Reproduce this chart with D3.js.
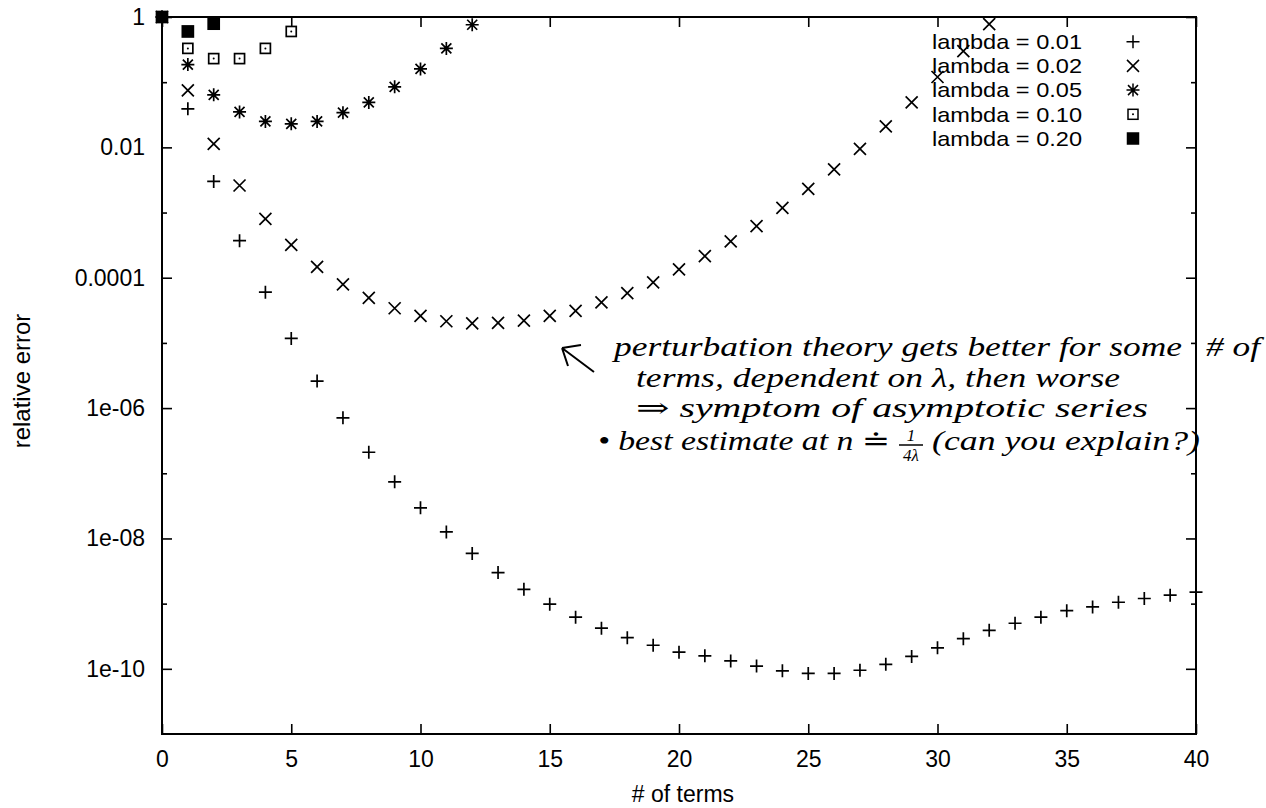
<!DOCTYPE html>
<html>
<head>
<meta charset="utf-8">
<script src="https://cdn.jsdelivr.net/npm/d3@7"></script>
<style>
  body { margin: 0; background: #fff; }
  svg { display: block; }
  .tick text { font-family: "Liberation Sans", Arial, sans-serif; font-size: 23px; fill: #000; }
</style>
</head>
<body>
<div id="chart"></div>
<script>
// relative error vs number of terms, index = # of terms (0..)
var lambda001 = [1, 0.039, 0.0030, 3.7e-4, 6.0e-5, 1.17e-5, 2.6e-6, 7.1e-7, 2.1e-7, 7.4e-8,
                 2.95e-8, 1.26e-8, 5.9e-9, 3.0e-9, 1.66e-9, 9.8e-10, 6.2e-10, 4.2e-10, 3.0e-10, 2.3e-10,
                 1.8e-10, 1.58e-10, 1.32e-10, 1.10e-10, 9.3e-11, 8.5e-11, 8.5e-11, 9.5e-11, 1.17e-10, 1.55e-10,
                 2.1e-10, 2.9e-10, 3.9e-10, 5.0e-10, 6.2e-10, 7.8e-10, 8.9e-10, 1.05e-9, 1.2e-9, 1.35e-9, 1.5e-9];
var lambda002 = [1, 0.075, 0.0113, 0.0026, 8.0e-4, 3.2e-4, 1.47e-4, 7.9e-5, 4.9e-5, 3.4e-5,
                 2.6e-5, 2.15e-5, 2.0e-5, 2.03e-5, 2.2e-5, 2.6e-5, 3.1e-5, 4.2e-5, 5.8e-5, 8.5e-5,
                 1.34e-4, 2.15e-4, 3.6e-4, 6.2e-4, 1.18e-3, 2.3e-3, 4.6e-3, 9.5e-3, 0.021, 0.049,
                 0.12, 0.30, 0.78];
var lambda005 = [1, 0.186, 0.064, 0.035, 0.025, 0.023, 0.025, 0.034, 0.049, 0.085, 0.16, 0.33, 0.76];
var lambda010 = [1, 0.33, 0.23, 0.23, 0.33, 0.60];
var lambda020 = [1, 0.60, 0.79];

var seriesNames = ["lambda = 0.01", "lambda = 0.02", "lambda = 0.05", "lambda = 0.10", "lambda = 0.20"];
var seriesShapes = ["plus", "cross", "star", "box", "filledbox"];
var seriesValues = [lambda001, lambda002, lambda005, lambda010, lambda020];

var xTicks = [0, 5, 10, 15, 20, 25, 30, 35, 40];
var yMajor = [1, 0.01, 1e-4, 1e-6, 1e-8, 1e-10];
var yLabels = ["1", "0.01", "0.0001", "1e-06", "1e-08", "1e-10"];
var yMinor = [0.1, 1e-3, 1e-5, 1e-7, 1e-9];

var width = 1266, height = 808;
var plotLeft = 162, plotRight = 1196, plotTop = 17, plotBottom = 734;

var svg = d3.select("#chart")
    .append("svg")
    .attr("width", width)
    .attr("height", height);

svg.append("rect").attr("width", width).attr("height", height).attr("fill", "#fff");

//scales
var x = d3.scaleLinear().domain([0, 40]).range([plotLeft, plotRight]);
var y = d3.scaleLog().domain([1e-11, 1]).range([plotBottom, plotTop]);

//bottom axis + mirror on top
svg.append("g")
    .attr("transform", "translate(0," + plotBottom + ")")
    .call(d3.axisBottom(x).tickValues(xTicks).tickSize(-10).tickPadding(17));
svg.append("g")
    .attr("transform", "translate(0," + plotTop + ")")
    .call(d3.axisTop(x).tickValues(xTicks).tickSize(-10).tickFormat(""));

//left axis, major + minor ticks
svg.append("g")
    .attr("transform", "translate(" + plotLeft + ",0)")
    .call(d3.axisLeft(y).tickValues(yMajor).tickSize(-10).tickPadding(17)
        .tickFormat(function (d, i) { return yLabels[i]; }));
svg.append("g")
    .attr("transform", "translate(" + plotLeft + ",0)")
    .call(d3.axisLeft(y).tickValues(yMinor).tickSize(-5).tickFormat(""));

//right mirror
svg.append("g")
    .attr("transform", "translate(" + plotRight + ",0)")
    .call(d3.axisRight(y).tickValues(yMajor).tickSize(-10).tickFormat(""));
svg.append("g")
    .attr("transform", "translate(" + plotRight + ",0)")
    .call(d3.axisRight(y).tickValues(yMinor).tickSize(-5).tickFormat(""));

svg.selectAll(".domain").remove();
svg.selectAll(".tick line").attr("stroke", "#000").attr("stroke-width", 1.6);

//border
svg.append("rect")
    .attr("x", plotLeft).attr("y", plotTop)
    .attr("width", plotRight - plotLeft).attr("height", plotBottom - plotTop)
    .attr("fill", "none").attr("stroke", "#000").attr("stroke-width", 2);

//axis titles
svg.append("text")
    .attr("transform", "translate(22,381) rotate(-90)")
    .attr("text-anchor", "middle")
    .attr("dy", "0.35em")
    .attr("font-family", "Liberation Sans, Arial, sans-serif")
    .attr("font-size", 24)
    .text("relative error");

svg.append("text")
    .attr("x", 683).attr("y", 794)
    .attr("text-anchor", "middle")
    .attr("dy", "0.35em")
    .attr("font-family", "Liberation Sans, Arial, sans-serif")
    .attr("font-size", 23)
    .text("# of terms");

//point markers
function drawMarker(g, shape) {
    if (shape == "plus") {
        g.append("path").attr("d", "M-6.5,0H6.5M0,-6.5V6.5");
    } else if (shape == "cross") {
        g.append("path").attr("d", "M-6,-6L6,6M-6,6L6,-6");
    } else if (shape == "star") {
        g.append("path").attr("d", "M-6.5,0H6.5M0,-6.5V6.5M-5,-5L5,5M-5,5L5,-5");
    } else if (shape == "box") {
        g.append("rect").attr("x", -5).attr("y", -5).attr("width", 10).attr("height", 10)
            .attr("fill", "none");
        g.append("circle").attr("r", 1).attr("fill", "#000").attr("stroke", "none");
    } else {
        g.append("rect").attr("x", -5.5).attr("y", -5.5).attr("width", 11).attr("height", 11)
            .attr("fill", "#000");
    }
}

var plot = svg.append("g")
    .attr("stroke", "#000")
    .attr("stroke-width", 1.7)
    .attr("fill", "none");

seriesValues.forEach(function (vals, s) {
    plot.selectAll(null)
        .data(vals)
        .enter()
        .append("g")
        .attr("transform", function (d, i) { return "translate(" + x(i) + "," + y(d) + ")"; })
        .each(function () { drawMarker(d3.select(this), seriesShapes[s]); });
});

//legend
var legend = svg.append("g");
seriesNames.forEach(function (name, i) {
    var ly = 41.7 + i * 24.2;
    legend.append("text")
        .attr("x", 932).attr("y", ly)
        .attr("dy", "0.35em")
        .attr("font-family", "Liberation Sans, Arial, sans-serif")
        .attr("font-size", 21)
        .attr("textLength", 150)
        .attr("lengthAdjust", "spacingAndGlyphs")
        .text(name);
    var mk = legend.append("g")
        .attr("transform", "translate(1133," + ly + ")")
        .attr("stroke", "#000").attr("stroke-width", 1.5).attr("fill", "none");
    drawMarker(mk, seriesShapes[i]);
});

//handwritten note
var note = svg.append("g")
    .attr("font-family", "Liberation Serif, DejaVu Serif, serif")
    .attr("font-style", "italic")
    .attr("font-size", 27)
    .attr("fill", "#000");

note.append("path")
    .attr("d", "M594,372L562,348M562,348L581,345M562,348L568,366")
    .attr("stroke", "#000").attr("stroke-width", 2).attr("fill", "none");

function noteLine(txt, x0, x1, base) {
    note.append("text")
        .attr("x", x0).attr("y", base)
        .attr("textLength", x1 - x0)
        .attr("lengthAdjust", "spacingAndGlyphs")
        .text(txt);
}
noteLine("perturbation theory gets better for some", 614, 1182, 356);
noteLine("# of", 1206, 1260, 356);
noteLine("terms, dependent on \u03bb, then worse", 636, 1120, 387);
noteLine("\u21d2 symptom of asymptotic series", 636, 1148, 417);
noteLine("\u2022 best estimate at n \u2250", 598, 890, 450);
note.append("text").attr("x", 911).attr("y", 441).attr("text-anchor", "middle")
    .attr("font-size", 17).text("1");
note.append("path").attr("d", "M899,445H923").attr("stroke", "#000").attr("stroke-width", 1.5);
note.append("text").attr("x", 911).attr("y", 461).attr("text-anchor", "middle")
    .attr("font-size", 17).text("4\u03bb");
noteLine("(can you explain?)", 932, 1200, 450);
</script>
</body>
</html>
